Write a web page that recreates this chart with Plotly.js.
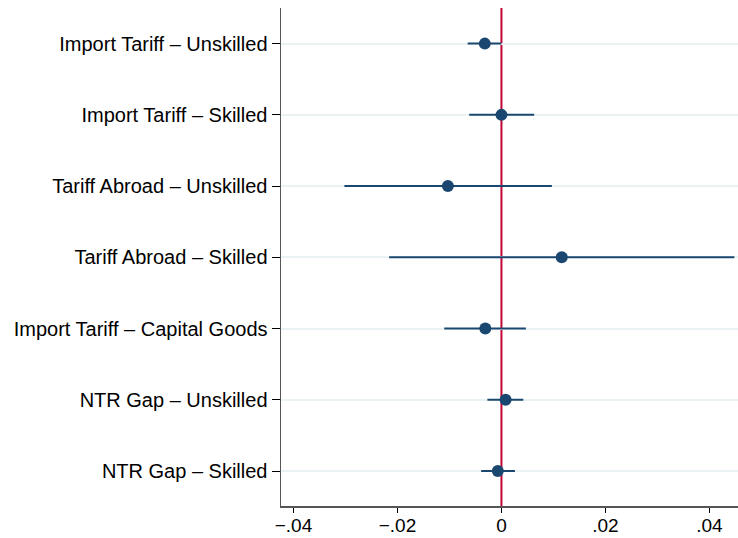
<!DOCTYPE html>
<html>
<head>
<meta charset="utf-8">
<script src="https://cdn.plot.ly/plotly-3.0.1.min.js"></script>
<style>html,body{margin:0;padding:0;background:#fff;}#chart{width:738px;height:538px;}</style>
</head>
<body>
<div id="chart"></div>
<script>
const categories = [
  "Import Tariff \u2013 Unskilled",
  "Import Tariff \u2013 Skilled",
  "Tariff Abroad \u2013 Unskilled",
  "Tariff Abroad \u2013 Skilled",
  "Import Tariff \u2013 Capital Goods",
  "NTR Gap \u2013 Unskilled",
  "NTR Gap \u2013 Skilled"
];
const estimates = [-0.0032, 0.0000, -0.0103, 0.0116, -0.0031, 0.0008, -0.0007];
const ciLow     = [-0.0065, -0.0062, -0.0302, -0.0216, -0.0110, -0.0027, -0.0039];
const ciHigh    = [ 0.0000,  0.0063,  0.0097,  0.0448,  0.0047,  0.0042,  0.0026];
const xTickVals = [-0.04, -0.02, 0, 0.02, 0.04];
const xTickText = ["\u2212.04", "\u2212.02", "0", ".02", ".04"];
const refValue = 0;

const navy = "#1a476f";
const trace = {
  type: "scatter",
  mode: "markers",
  x: estimates,
  y: categories,
  marker: {color: navy, size: 12},
  error_x: {
    type: "data",
    symmetric: false,
    array: ciHigh.map((h, i) => h - estimates[i]),
    arrayminus: estimates.map((e, i) => e - ciLow[i]),
    color: navy,
    thickness: 2,
    width: 0
  },
  hoverinfo: "x+y",
  showlegend: false
};

const layout = {
  width: 738,
  height: 538,
  margin: {l: 281, r: 0, t: 8, b: 32},
  paper_bgcolor: "#ffffff",
  plot_bgcolor: "#ffffff",
  font: {family: "Liberation Sans, Arial, sans-serif", size: 20, color: "#000"},
  xaxis: {
    range: [-0.0424, 0.0455],
    tickvals: xTickVals,
    ticktext: xTickText,
    ticks: "outside",
    ticklen: 5,
    tickcolor: "#000",
    tickwidth: 1,
    ticklabelstandoff: -3,
    showgrid: false,
    zeroline: false,
    showline: true,
    linecolor: "#555",
    linewidth: 1.5,
    tickfont: {size: 19}
  },
  yaxis: {
    type: "category",
    categoryarray: categories,
    range: [6.49, -0.5],
    ticks: "outside",
    ticklen: 8,
    tickcolor: "#000",
    tickwidth: 1,
    showgrid: true,
    gridcolor: "#eaf2f3",
    gridwidth: 2,
    zeroline: false,
    showline: true,
    linecolor: "#555",
    linewidth: 1.5,
    tickfont: {size: 20}
  },
  shapes: [{
    type: "line",
    xref: "x", yref: "paper",
    x0: refValue, x1: refValue, y0: 0, y1: 1,
    line: {color: "#c10534", width: 2},
    layer: "below"
  }]
};

Plotly.newPlot("chart", [trace], layout, {displayModeBar: false, staticPlot: true});
</script>
</body>
</html>
